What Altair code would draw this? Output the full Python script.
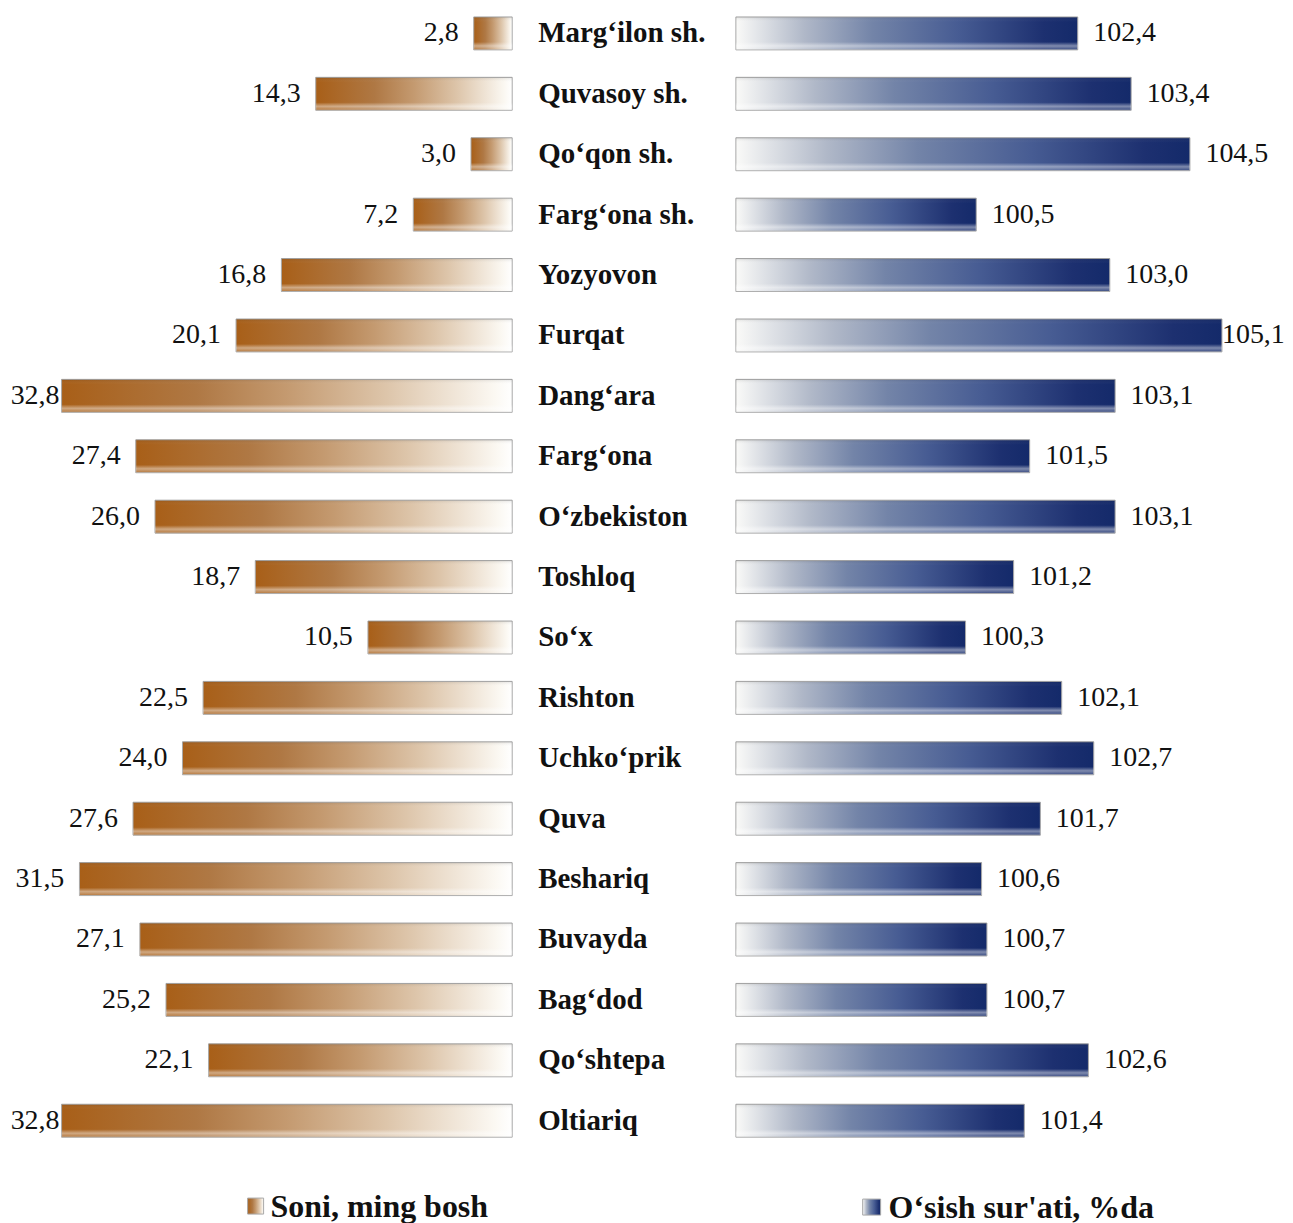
import altair as alt
import pandas as pd

regions = ["Marg‘ilon sh.", "Quvasoy sh.", "Qo‘qon sh.", "Farg‘ona sh.", "Yozyovon", "Furqat",
           "Dang‘ara", "Farg‘ona", "O‘zbekiston", "Toshloq", "So‘x", "Rishton", "Uchko‘prik",
           "Quva", "Beshariq", "Buvayda", "Bag‘dod", "Qo‘shtepa", "Oltiariq"]
soni = [2.8, 14.3, 3.0, 7.2, 16.8, 20.1, 32.8, 27.4, 26.0, 18.7, 10.5, 22.5, 24.0, 27.6, 31.5, 27.1, 25.2, 22.1, 32.8]
osish = [102.4, 103.4, 104.5, 100.5, 103.0, 105.1, 103.1, 101.5, 103.1, 101.2, 100.3, 102.1, 102.7,
         101.7, 100.6, 100.7, 100.7, 102.6, 101.4]
series_names = ["Soni, ming bosh", "O‘sish sur'ati, %da"]

def fmt(v):
    return f"{v:.1f}".replace(".", ",")

df = pd.DataFrame({
    "region": regions,
    "soni": soni,
    "osish": osish,
    "soni_lbl": [fmt(v) for v in soni],
    "osish_lbl": [fmt(v) for v in osish],
})

FONT = "Times New Roman, Liberation Serif, serif"
H = 1138
yenc = alt.Y("region:N", sort=regions, axis=None,
             scale=alt.Scale(type="band", paddingInner=0.4545, paddingOuter=0.132))

orange = alt.Gradient(gradient="linear", x1=0, x2=1, y1=0, y2=0, stops=[
    alt.GradientStop(color="#A85F18", offset=0),
    alt.GradientStop(color="#AF7844", offset=0.3),
    alt.GradientStop(color="#C49A70", offset=0.5),
    alt.GradientStop(color="#DDC5AA", offset=0.72),
    alt.GradientStop(color="#FBF8F2", offset=0.96),
    alt.GradientStop(color="#FFFFFF", offset=1),
])
blue = alt.Gradient(gradient="linear", x1=0, x2=1, y1=0, y2=0, stops=[
    alt.GradientStop(color="#FAFAF8", offset=0),
    alt.GradientStop(color="#B0B8C8", offset=0.2),
    alt.GradientStop(color="#7384A8", offset=0.4),
    alt.GradientStop(color="#475C93", offset=0.65),
    alt.GradientStop(color="#1D3070", offset=0.9),
    alt.GradientStop(color="#142A6A", offset=1),
])
bevel = alt.Gradient(gradient="linear", x1=0, x2=0, y1=0, y2=1, stops=[
    alt.GradientStop(color="rgba(0,0,0,0.10)", offset=0),
    alt.GradientStop(color="rgba(255,255,255,0)", offset=0.15),
    alt.GradientStop(color="rgba(255,255,255,0)", offset=0.76),
    alt.GradientStop(color="rgba(255,255,255,0.45)", offset=0.88),
    alt.GradientStop(color="rgba(255,255,255,0.15)", offset=1),
])

base = alt.Chart(df)

# Left panel
lscale = alt.Scale(domain=[0, 36.7], reverse=True)
lx = alt.X("soni:Q", axis=None, scale=lscale)
left_bars = base.mark_bar(fill=orange, stroke="#A8A8A8", strokeWidth=1).encode(x=lx, y=yenc)
left_bevel = base.mark_bar(fill=bevel).encode(x=lx, y=yenc)
left_text = base.transform_calculate(
    lpos="min(datum.soni + 1.1, 32.95)"
).mark_text(align="right", baseline="middle", font=FONT, fontSize=28,
            color="#111111").encode(
    x=alt.X("lpos:Q", axis=None, scale=lscale),
    y=yenc, text="soni_lbl:N")
leg_df = pd.DataFrame({"name": series_names})
left_leg_sym = alt.Chart(leg_df.iloc[[0]]).mark_rect(fill=orange, stroke="#A8A8A8", strokeWidth=1).encode(
    x=alt.value(240), x2=alt.value(256), y=alt.value(1191), y2=alt.value(1207))
left_leg_txt = alt.Chart(leg_df.iloc[[0]]).mark_text(align="left", baseline="middle", font=FONT,
                                                     fontSize=32, fontWeight="bold", color="#111111").encode(
    x=alt.value(263), y=alt.value(1200), text="name:N")
left = alt.layer(left_bars, left_bevel, left_text, left_leg_sym, left_leg_txt).properties(width=505, height=H)

# Middle panel (category labels)
mid = base.mark_text(align="left", baseline="middle", font=FONT, fontSize=29, fontWeight="bold",
                     color="#111111").encode(x=alt.value(25), y=yenc, text="region:N").properties(width=222, height=H)

# Right panel
rscale = alt.Scale(domain=[96, 106.28], zero=False)
rx = alt.X("osish:Q", axis=None, scale=rscale)
right_bars = base.mark_bar(fill=blue, stroke="#A8A8A8", strokeWidth=1).encode(x=rx, x2=alt.datum(96), y=yenc)
right_bevel = base.mark_bar(fill=bevel).encode(x=rx, x2=alt.datum(96), y=yenc)
right_text = base.transform_calculate(
    rpos="min(datum.osish + 0.29, 105.1)"
).mark_text(align="left", baseline="middle", font=FONT, fontSize=28,
            color="#111111").encode(
    x=alt.X("rpos:Q", axis=None, scale=rscale),
    y=yenc, text="osish_lbl:N")
right_leg_sym = alt.Chart(leg_df.iloc[[1]]).mark_rect(fill=blue, stroke="#A8A8A8", strokeWidth=1).encode(
    x=alt.value(127), x2=alt.value(145), y=alt.value(1192), y2=alt.value(1208))
right_leg_txt = alt.Chart(leg_df.iloc[[1]]).mark_text(align="left", baseline="middle", font=FONT,
                                                      fontSize=32, fontWeight="bold", color="#111111").encode(
    x=alt.value(153), y=alt.value(1201), text="name:N")
right = alt.layer(right_bars, right_bevel, right_text, right_leg_sym, right_leg_txt).properties(width=550, height=H)

chart = alt.hconcat(left, mid, right, spacing=0).properties(padding=0).configure_view(strokeWidth=0)
chart.save("out.html", embed_options={"renderer": "svg", "actions": False})
